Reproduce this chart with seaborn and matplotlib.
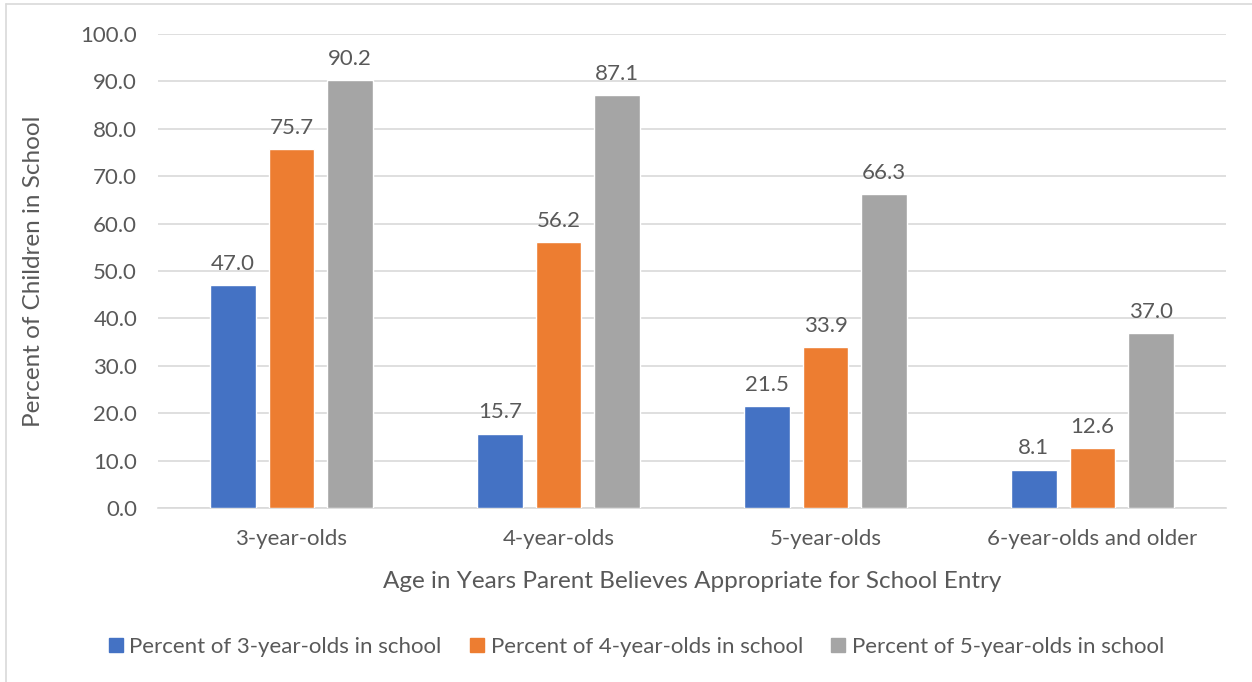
import matplotlib
matplotlib.use("Agg")
import matplotlib.pyplot as plt
import seaborn as sns
import pandas as pd
from matplotlib.lines import Line2D

categories = ["3-year-olds", "4-year-olds", "5-year-olds", "6-year-olds and older"]
series_names = ["Percent of 3-year-olds in school",
                "Percent of 4-year-olds in school",
                "Percent of 5-year-olds in school"]
pct_3yo = [47.0, 15.7, 21.5, 8.1]
pct_4yo = [75.7, 56.2, 33.9, 12.6]
pct_5yo = [90.2, 87.1, 66.3, 37.0]
y_ticks = [0, 10, 20, 30, 40, 50, 60, 70, 80, 90, 100]

colors = ["#4472C4", "#ED7D31", "#A5A5A5"]
text_color = "#595959"

rows = []
for name, vals in zip(series_names, [pct_3yo, pct_4yo, pct_5yo]):
    for cat, v in zip(categories, vals):
        rows.append({"Age": cat, "Series": name, "Value": v})
df = pd.DataFrame(rows)

sns.set_theme(style="white")
plt.rcParams["font.family"] = ["Lato", "DejaVu Sans"]

fig = plt.figure(figsize=(12.52, 6.82), dpi=100)
ax = fig.add_axes([158 / 1252, 1 - 508 / 682, (1226 - 158) / 1252, (508 - 34) / 682])

sns.barplot(data=df, x="Age", y="Value", hue="Series", order=categories,
            hue_order=series_names, palette=colors, width=0.66, gap=0.22,
            saturation=1, errorbar=None, ax=ax, legend=False, zorder=3)

for container in ax.containers:
    ax.bar_label(container, fmt="%.1f", padding=8, fontsize=16, color=text_color)

ax.set_ylim(0, 100)
ax.set_xlim(-0.5, 3.5)
ax.set_yticks(y_ticks)
ax.set_yticklabels([f"{t:.1f}" for t in y_ticks])
ax.yaxis.grid(True, color="#D9D9D9", linewidth=1.2, zorder=0)
ax.set_axisbelow(True)
for s in ["top", "right", "left"]:
    ax.spines[s].set_visible(False)
ax.spines["bottom"].set_color("#D9D9D9")
ax.spines["bottom"].set_linewidth(1.2)
ax.tick_params(axis="both", length=0, labelsize=16, labelcolor=text_color)
ax.tick_params(axis="y", pad=15)
ax.tick_params(axis="x", pad=15)

ax.set_ylabel("Percent of Children in School", fontsize=17.5, color=text_color, labelpad=26)
ax.set_xlabel("Age in Years Parent Believes Appropriate for School Entry",
              fontsize=17.5, color=text_color, labelpad=16)

handles = [Line2D([0], [0], marker="s", linestyle="none", markersize=10.5,
                  markerfacecolor=c, markeredgecolor=c) for c in colors]
fig.legend(handles, series_names, loc="center", bbox_to_anchor=(0.5076, 1 - 647 / 682),
           ncol=3, frameon=False, fontsize=16, labelcolor=text_color,
           handletextpad=0.2, columnspacing=1.2, handlelength=0.8)

# thin outer frame along the top and left edges of the figure
fig.add_artist(Line2D([6 / 1252, 1.0], [1 - 4 / 682, 1 - 4 / 682],
                      transform=fig.transFigure, color="#D9D9D9", linewidth=1.2))
fig.add_artist(Line2D([6 / 1252, 6 / 1252], [0.0, 1 - 4 / 682],
                      transform=fig.transFigure, color="#D9D9D9", linewidth=1.2))

fig.savefig("out.png", dpi=100, facecolor="white")
